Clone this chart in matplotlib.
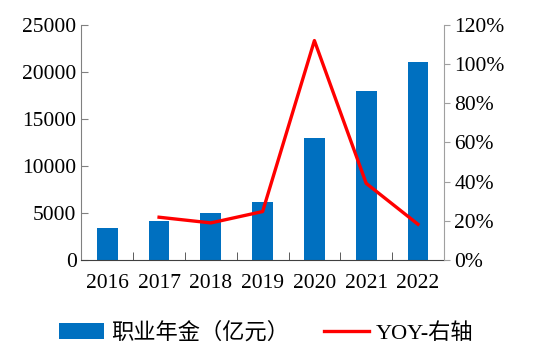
import numpy as np
import matplotlib.pyplot as plt
from matplotlib.ticker import FuncFormatter

years = ['2016', '2017', '2018', '2019', '2020', '2021', '2022']
fund = [3430, 4150, 4970, 6140, 12950, 17950, 21100]
yoy_years = ['2017', '2018', '2019', '2020', '2021', '2022']
yoy = [21.8, 18.9, 24.7, 112.0, 39.1, 18.2]

serif = ['Liberation Serif', 'Noto Sans CJK SC']
plt.rcParams['font.family'] = serif

fig = plt.figure(figsize=(5.5, 3.61), dpi=100)
ax = fig.add_axes([0.148, 0.280, 0.659, 0.651])
x = np.arange(len(years))
bars = ax.bar(x, fund, width=0.4, color='#0070C0')
ax.set_xlim(-0.5, len(years) - 0.5)
ax.set_ylim(0, 25000)
ax.set_yticks(np.arange(0, 25001, 5000))
ax.set_xticks(x)
ax.set_xticklabels(years, fontsize=15.5)
ax.tick_params(axis='y', labelsize=15.5, direction='in', length=5, color='#808080')
ax.tick_params(axis='x', length=0, pad=10)
ax.set_xticks(np.arange(-0.5, len(years)), minor=True)
ax.tick_params(axis='x', which='minor', direction='in', length=6, color='#404040')
ax.spines['top'].set_visible(False)
ax.spines['left'].set_color('#808080')
ax.spines['bottom'].set_color('#404040')
ax.spines['right'].set_visible(False)

ax2 = ax.twinx()
xi = [years.index(y) for y in yoy_years]
line, = ax2.plot(xi, yoy, color='#FF0000', lw=2.4)
ax2.set_ylim(0, 120)
ax2.set_yticks(np.arange(0, 121, 20))
ax2.yaxis.set_major_formatter(FuncFormatter(lambda v, p: f'{v:.0f}%'))
ax2.tick_params(axis='y', labelsize=15.5, direction='out', length=4, color='#A0A0A0')
ax2.spines['top'].set_visible(False)
ax2.spines['left'].set_visible(False)
ax2.spines['bottom'].set_visible(False)
ax2.spines['right'].set_color('#A0A0A0')

fig.legend([bars, line], ['职业年金（亿元）', 'YOY-右轴'], loc='center',
           bbox_to_anchor=(0.484, 0.078), ncol=2, frameon=False, fontsize=16,
           handlelength=2.0, handleheight=0.75, columnspacing=1.6,
           handletextpad=0.3)

fig.savefig('out.png', dpi=100)
